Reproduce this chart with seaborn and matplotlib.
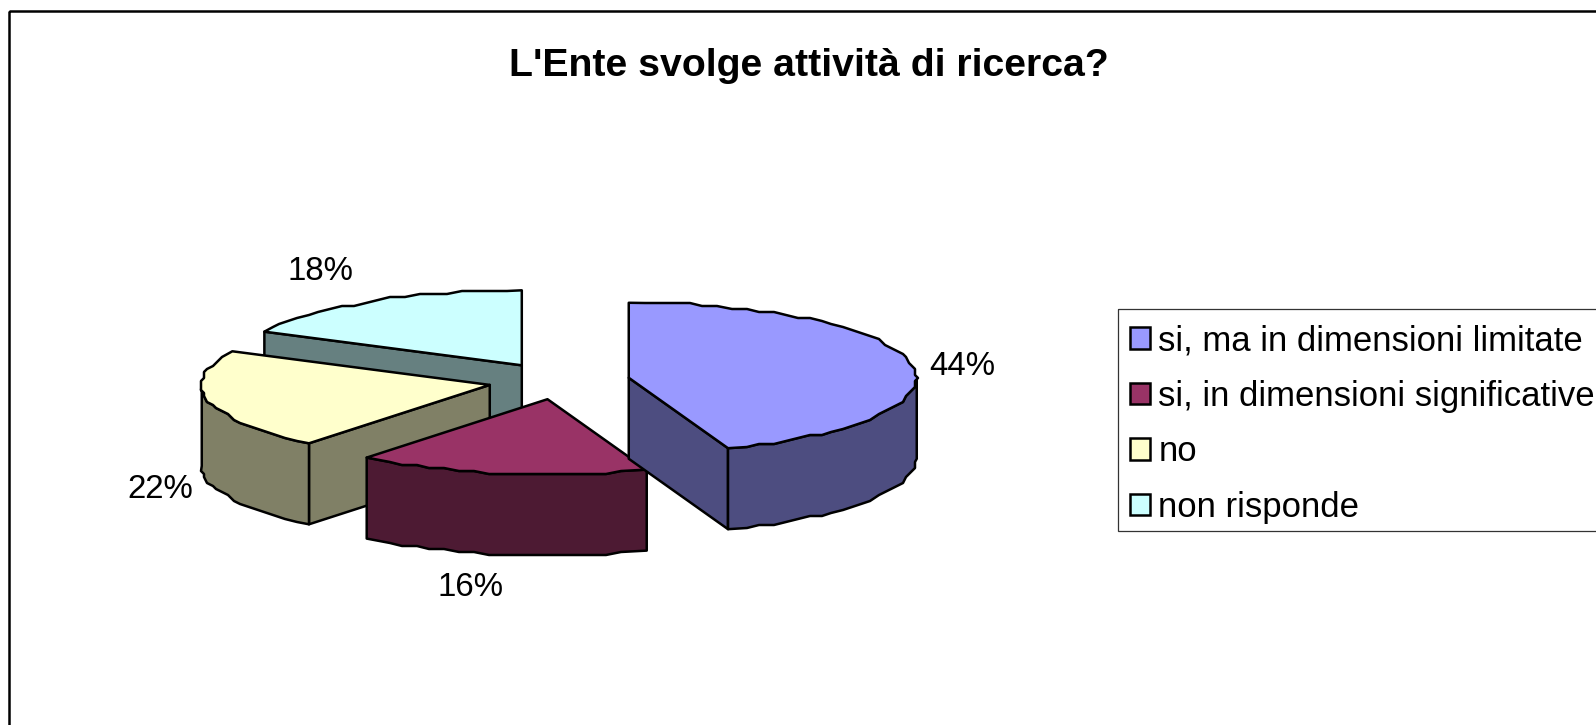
import numpy as np
import matplotlib
matplotlib.use("Agg")
import matplotlib.pyplot as plt
from matplotlib.patches import Patch, Polygon, Rectangle
import seaborn as sns

# --- data ---
TITLE = "L'Ente svolge attività di ricerca?"
CATEGORIES = ["si, ma in dimensioni limitate", "si, in dimensioni significative", "no", "non risponde"]
SHARES = [44.4, 16.4, 21.6, 17.6]
COLORS = ["#9999ff", "#993366", "#ffffcc", "#ccffff"]

# --- pie geometry, in pixels of the picture ---
CENTER = (559.0, 381.0)
RX, RY = 288.0, 75.0
DEPTH = 81.0
EXPLODE = 0.246
GRID = 3.0
STEP = 3.0
LW = 1.8
# label offset from the middle of each wedge's rim
LABEL_OFFSET = [(50, 2), (-30, 114), (-48, 89), (-50, -30)]

sns.set_theme(style="white")
plt.rcParams["font.family"] = ["Liberation Sans", "DejaVu Sans"]


def rim(theta, origin):
    t = np.radians(theta)
    return np.column_stack([origin[0] + RX * np.sin(t), origin[1] - RY * np.cos(t)])


def arc(start, end, origin):
    # the reference has a rough stepped outline, so snap inner points to a coarse grid.
    # angles come from one fixed list so the top face and the wall share their steps
    inner = np.arange(np.ceil(start / STEP) + 1, np.floor(end / STEP)) * STEP
    inner_pts = rim(inner, origin)
    inner_pts = np.round(inner_pts / GRID) * GRID
    return np.vstack([rim(np.array([start]), origin), inner_pts, rim(np.array([end]), origin)])


def draw_wedge(ax, start, end, color, origin):
    side = tuple(c * 0.5 for c in matplotlib.colors.to_rgb(color))
    down = np.array([0, DEPTH])
    apex = np.array(origin)
    style = dict(edgecolor="black", linewidth=LW, joinstyle="round")

    # cut faces that look to the viewer
    for theta, shown in [(start, 180 <= start % 360 < 360), (end, 0 < end % 360 < 180)]:
        if shown:
            p = rim(np.array([theta]), origin)[0]
            ax.add_patch(Polygon([apex, p, p + down, apex + down], facecolor=side, **style))

    # outer wall, only the front half of the ellipse
    lo, hi = max(start, 90), min(end, 270)
    if lo < hi:
        edge = arc(lo, hi, origin)
        ax.add_patch(Polygon(np.vstack([edge, edge[::-1] + down]), facecolor=side, **style))

    top = np.vstack([[apex], arc(start, end, origin)])
    ax.add_patch(Polygon(top, facecolor=color, **style))


fig = plt.figure(figsize=(15.96, 7.25), dpi=100)
ax = fig.add_axes([0, 0, 1, 1])
ax.set_xlim(0, 1596)
ax.set_ylim(725, 0)
ax.axis("off")

# chart border, runs off the right and bottom of the picture
ax.add_patch(Rectangle((8.5, 11), 1700, 800, fill=False, edgecolor="black", linewidth=LW))

ax.text(809, 76, TITLE, fontsize=28.3, fontweight="bold", ha="center", va="baseline", color="black")

shares = np.array(SHARES)
bounds = np.concatenate([[0], np.cumsum(shares) / shares.sum() * 360])
mids = (bounds[:-1] + bounds[1:]) / 2

origins = []
for mid in mids:
    t = np.radians(mid)
    origins.append((CENTER[0] + EXPLODE * RX * np.sin(t), CENTER[1] - EXPLODE * RY * np.cos(t)))

# back to front: cyan, yellow, red, blue
for i in [3, 2, 1, 0]:
    draw_wedge(ax, bounds[i], bounds[i + 1], COLORS[i], origins[i])

for i, share in enumerate(SHARES):
    p = rim(np.array([mids[i]]), origins[i])[0]
    ax.text(p[0] + LABEL_OFFSET[i][0], p[1] + LABEL_OFFSET[i][1], f"{share:.0f}%",
            fontsize=23.8, ha="center", va="center", color="black")

# legend box goes off the right edge, drawn apart so the rows can sit lower in it
ax.add_patch(Rectangle((1118, 309), 600, 222, fill=False, edgecolor="#333333", linewidth=0.9))
handles = [Patch(facecolor=c, edgecolor="black", linewidth=LW) for c in COLORS]
leg = ax.legend(handles, CATEGORIES, loc="upper left", bbox_to_anchor=(1118, 312),
                bbox_transform=ax.transData, fontsize=25, frameon=False, labelcolor="black",
                borderpad=0.35, borderaxespad=0,
                handlelength=0.58, handleheight=0.58, handletextpad=0.23, labelspacing=0.65)

plt.savefig("out.png", dpi=100)
